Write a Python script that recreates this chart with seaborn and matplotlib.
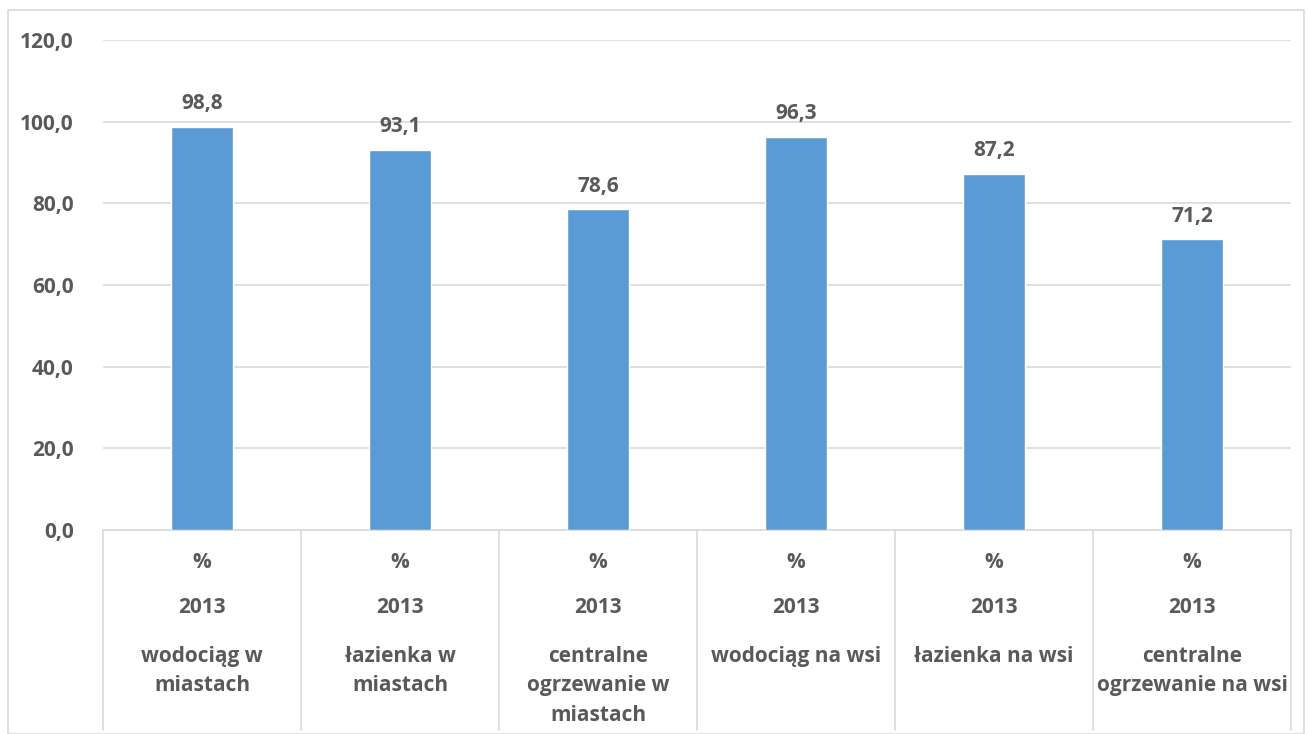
import matplotlib
matplotlib.use("Agg")
import matplotlib.pyplot as plt
import matplotlib.transforms as mtransforms
from matplotlib.patches import Rectangle
import seaborn as sns
import pandas as pd

# data
categories = ["wodociąg w\nmiastach", "łazienka w\nmiastach", "centralne\nogrzewanie w\nmiastach",
              "wodociąg na wsi", "łazienka na wsi", "centralne\nogrzewanie na wsi"]
values = [98.8, 93.1, 78.6, 96.3, 87.2, 71.2]
years = ["2013"] * 6
units = ["%"] * 6
y_ticks = [0, 20, 40, 60, 80, 100, 120]

text_color = "#595959"
grid_color = "#D9D9D9"
bar_color = "#5B9BD5"
fs = 15

sns.set_theme(style="white")
plt.rcParams["font.family"] = ["Open Sans", "DejaVu Sans"]
plt.rcParams["font.weight"] = "bold"


def fmt(v):
    return f"{v:.1f}".replace(".", ",")


df = pd.DataFrame({"cat": categories, "val": values})

fig = plt.figure(figsize=(13.11, 7.34), dpi=100)
ax = fig.add_axes([103 / 1311, 1 - 530 / 734, (1291 - 103) / 1311, 490 / 734])

sns.barplot(data=df, x="cat", y="val", color=bar_color, width=0.31,
            saturation=1, ax=ax, zorder=3)

ax.set_ylim(0, 120)
ax.set_xlim(-0.5, len(categories) - 0.5)
ax.set_yticks(y_ticks)
ax.set_yticklabels([fmt(t) for t in y_ticks], fontsize=fs, color=text_color, fontweight="bold")
ax.tick_params(axis="y", length=0, pad=21)
ax.set_xticks([])
ax.set_xlabel("")
ax.set_ylabel("")
ax.grid(axis="y", color=grid_color, linewidth=1.2, zorder=0)
for s in ["top", "right", "left"]:
    ax.spines[s].set_visible(False)
ax.spines["bottom"].set_color(grid_color)
ax.spines["bottom"].set_linewidth(1.2)

# value labels
for c in ax.containers:
    ax.bar_label(c, labels=[fmt(v) for v in values], padding=9,
                 fontsize=fs, color=text_color, fontweight="bold")

# multi-level category axis
trans = mtransforms.blended_transform_factory(ax.transData, ax.transAxes)
for i in range(len(categories) + 1):
    ax.plot([i - 0.5, i - 0.5], [0, -0.408], transform=trans, color=grid_color,
            linewidth=1.2, clip_on=False)
for i, (u, yr, c) in enumerate(zip(units, years, categories)):
    ax.text(i, -0.067, u, transform=trans, ha="center", va="center",
            fontsize=fs, color=text_color, fontweight="bold")
    ax.text(i, -0.159, yr, transform=trans, ha="center", va="center",
            fontsize=fs, color=text_color, fontweight="bold")
    ax.text(i, -0.236, c, transform=trans, ha="center", va="top",
            fontsize=fs, color=text_color, fontweight="bold", linespacing=1.55)

# outer chart border
fig.patches.append(Rectangle((8 / 1311, 0), (1304 - 8) / 1311, 1 - 10 / 734,
                             transform=fig.transFigure, fill=False,
                             edgecolor=grid_color, linewidth=1.2))

fig.savefig("out.png", dpi=100)
